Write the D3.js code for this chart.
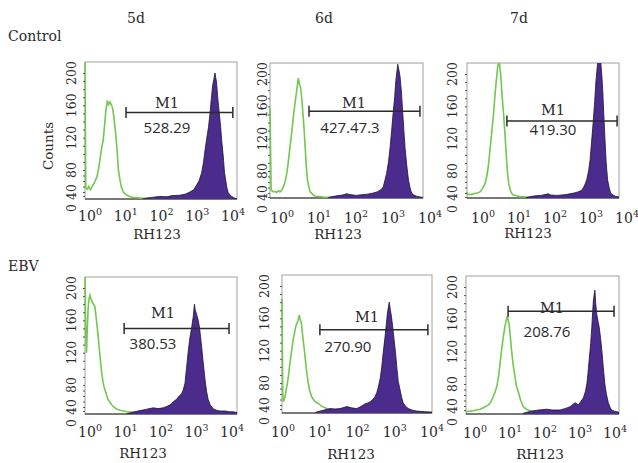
<!DOCTYPE html>
<html lang="en">
<head>
<meta charset="UTF-8" />
<title>RH123 histograms, Control vs EBV</title>
<script src="https://d3js.org/d3.v7.min.js"></script>
<style>
  body { margin: 0; background: #fff; }
  svg { display: block; }
  .serif { font-family: 'DejaVu Serif', serif; fill: #2a2a2a; }
  .sans { font-family: 'Open Sans', sans-serif; fill: #2a2a2a; }
</style>
</head>
<body>
<svg id="chart" width="638" height="463"></svg>
<script>
// ---- data: [log10 RH123 intensity, counts] ----
const days = ['5d', '6d', '7d'];
const groups = ['Control', 'EBV'];
const xTicks = [1, 10, 100, 1000, 10000];
const yTicks = [0, 40, 80, 120, 160, 200];
const mfiLabels = ['528.29', '427.47.3', '419.30', '380.53', '270.90', '208.76'];
const gateFrom = [1.08, 1.02, 1.05, 1.03, 1.01, 1.1];
const gateTo = [3.89, 3.92, 3.95, 3.79, 3.89, 3.87];
const gateLevel = [151, 154, 142, 150, 146, 170];

const ctrl5dGreen = [[0, 215], [0.02, 48], [0.06, 45], [0.1, 50], [0.14, 44], [0.18, 49], [0.24, 56], [0.31, 67], [0.36, 82], [0.39, 92], [0.44, 108], [0.48, 117], [0.52, 138], [0.55, 154], [0.59, 166], [0.62, 161], [0.66, 164], [0.7, 160], [0.73, 156], [0.76, 145], [0.79, 133], [0.82, 118], [0.85, 101], [0.88, 80], [0.92, 62], [0.96, 48], [1.01, 40], [1.07, 34], [1.14, 30], [1.25, 27], [1.45, 25], [1.7, 23], [2.5, 23], [4, 23]];
const ctrl5dPurple = [[1.5, 22], [1.63, 25], [1.8, 27], [1.97, 29], [2.15, 28], [2.3, 31], [2.5, 32], [2.65, 35], [2.76, 40], [2.86, 44], [2.94, 53], [3.0, 60], [3.07, 75], [3.12, 90], [3.16, 105], [3.2, 118], [3.25, 133], [3.29, 150], [3.32, 166], [3.36, 185], [3.39, 192], [3.42, 200], [3.44, 194], [3.46, 189], [3.5, 166], [3.53, 152], [3.57, 133], [3.6, 115], [3.64, 96], [3.67, 76], [3.71, 58], [3.74, 46], [3.77, 38], [3.82, 32], [3.86, 29], [3.93, 25], [4, 23]];

const ctrl6dGreen = [[0, 158], [0.03, 45], [0.09, 42], [0.13, 43], [0.17, 41], [0.22, 44], [0.26, 42], [0.31, 46], [0.35, 51], [0.4, 62], [0.44, 76], [0.48, 92], [0.52, 109], [0.57, 128], [0.61, 147], [0.66, 166], [0.7, 180], [0.74, 195], [0.77, 188], [0.8, 183], [0.83, 170], [0.85, 158], [0.89, 133], [0.92, 109], [0.95, 85], [0.98, 64], [1.02, 50], [1.05, 42], [1.12, 36], [1.18, 32], [1.3, 31], [1.39, 30], [1.6, 29], [2, 28], [4, 28]];
const ctrl6dPurple = [[1.5, 27], [1.57, 30], [1.75, 33], [1.9, 35], [2.0, 38], [2.1, 36], [2.25, 34], [2.44, 36], [2.55, 37], [2.7, 40], [2.8, 42], [2.9, 46], [2.96, 51], [3.0, 62], [3.05, 76], [3.1, 92], [3.14, 109], [3.18, 130], [3.22, 152], [3.26, 172], [3.29, 192], [3.32, 204], [3.34, 212], [3.37, 205], [3.4, 197], [3.44, 175], [3.47, 152], [3.5, 130], [3.53, 109], [3.58, 85], [3.62, 64], [3.66, 50], [3.7, 40], [3.76, 35], [3.83, 32], [3.92, 30], [4, 29]];

const ctrl7dGreen = [[0, 42], [0.02, 36], [0.08, 37], [0.12, 36], [0.17, 38], [0.22, 39], [0.28, 40], [0.34, 42], [0.4, 47], [0.47, 56], [0.52, 70], [0.56, 85], [0.6, 104], [0.65, 127], [0.7, 152], [0.74, 176], [0.78, 196], [0.81, 210], [0.85, 215], [0.87, 206], [0.89, 197], [0.92, 175], [0.96, 152], [1.0, 125], [1.03, 103], [1.06, 80], [1.1, 56], [1.15, 43], [1.2, 36], [1.3, 33], [1.39, 31], [1.55, 30], [1.8, 28], [4, 28]];
const ctrl7dPurple = [[1.55, 28], [1.66, 31], [1.8, 33], [1.95, 34], [2.05, 36], [2.14, 38], [2.2, 35], [2.35, 34], [2.5, 35], [2.6, 36], [2.71, 38], [2.82, 40], [2.92, 42], [3.02, 45], [3.09, 53], [3.15, 64], [3.2, 80], [3.24, 94], [3.28, 117], [3.32, 140], [3.36, 166], [3.39, 189], [3.42, 205], [3.44, 215], [3.48, 216], [3.52, 215], [3.55, 197], [3.57, 181], [3.6, 150], [3.63, 120], [3.66, 92], [3.7, 64], [3.74, 50], [3.78, 40], [3.84, 35], [3.9, 32], [4, 30]];

const ebv5dGreen = [[0, 215], [0.02, 140], [0.04, 120], [0.06, 150], [0.08, 172], [0.1, 185], [0.13, 191], [0.16, 186], [0.18, 184], [0.22, 180], [0.26, 177], [0.29, 165], [0.32, 152], [0.35, 138], [0.38, 123], [0.41, 108], [0.44, 95], [0.47, 85], [0.5, 77], [0.55, 66], [0.59, 56], [0.64, 50], [0.7, 44], [0.76, 40], [0.83, 35], [0.92, 32], [1.01, 30], [1.1, 28], [1.27, 27], [1.5, 24], [2, 23], [4, 23]];
const ebv5dPurple = [[1.1, 23], [1.3, 28], [1.45, 31], [1.6, 34], [1.8, 38], [1.92, 36], [2.06, 38], [2.15, 41], [2.24, 44], [2.33, 50], [2.41, 54], [2.48, 60], [2.54, 64], [2.58, 70], [2.63, 82], [2.67, 100], [2.72, 123], [2.76, 138], [2.81, 152], [2.85, 165], [2.88, 180], [2.9, 173], [2.94, 167], [2.98, 160], [3.01, 152], [3.04, 140], [3.07, 127], [3.11, 108], [3.16, 86], [3.2, 68], [3.24, 54], [3.3, 43], [3.38, 35], [3.46, 32], [3.55, 30], [3.7, 30], [3.8, 28], [3.9, 28], [4, 26]];

const ebv6dGreen = [[0, 184], [0.02, 60], [0.04, 46], [0.08, 55], [0.11, 67], [0.14, 78], [0.17, 88], [0.21, 104], [0.26, 121], [0.3, 134], [0.35, 146], [0.38, 152], [0.42, 156], [0.44, 160], [0.46, 164], [0.49, 158], [0.52, 153], [0.56, 135], [0.61, 115], [0.65, 97], [0.7, 80], [0.74, 66], [0.79, 55], [0.84, 50], [0.88, 46], [0.93, 44], [0.99, 42], [1.05, 37], [1.15, 33], [1.25, 29], [1.37, 26], [1.6, 23], [2, 22], [4, 22]];
const ebv6dPurple = [[0.9, 22], [1.1, 27], [1.28, 31], [1.42, 30], [1.55, 31], [1.65, 34], [1.73, 36], [1.85, 33], [1.99, 31], [2.1, 36], [2.21, 42], [2.3, 44], [2.35, 46], [2.42, 50], [2.48, 55], [2.53, 63], [2.57, 73], [2.62, 86], [2.66, 100], [2.7, 118], [2.75, 138], [2.78, 152], [2.81, 166], [2.84, 175], [2.86, 180], [2.89, 170], [2.92, 162], [2.96, 146], [2.99, 133], [3.03, 116], [3.06, 100], [3.1, 82], [3.15, 67], [3.19, 54], [3.23, 44], [3.3, 36], [3.37, 31], [3.48, 27], [3.59, 25], [3.8, 23], [4, 22]];

const ebv7dGreen = [[0, 26], [0.1, 27], [0.19, 28], [0.28, 30], [0.37, 32], [0.44, 35], [0.5, 38], [0.57, 41], [0.63, 45], [0.7, 55], [0.76, 65], [0.81, 77], [0.85, 89], [0.89, 105], [0.93, 122], [0.96, 133], [0.99, 143], [1.02, 152], [1.05, 158], [1.08, 164], [1.1, 160], [1.13, 153], [1.16, 138], [1.19, 122], [1.23, 105], [1.28, 89], [1.32, 76], [1.37, 65], [1.43, 50], [1.5, 38], [1.58, 32], [1.67, 28], [1.85, 24], [2.2, 22], [4, 22]];
const ebv7dPurple = [[1.5, 22], [1.7, 27], [1.9, 30], [2.11, 32], [2.25, 30], [2.46, 30], [2.6, 34], [2.72, 38], [2.8, 43], [2.85, 46], [2.9, 44], [2.94, 42], [3.0, 48], [3.07, 55], [3.12, 66], [3.16, 80], [3.19, 94], [3.22, 110], [3.26, 130], [3.29, 151], [3.31, 168], [3.33, 183], [3.35, 190], [3.37, 196], [3.39, 180], [3.42, 166], [3.45, 158], [3.48, 151], [3.52, 136], [3.55, 122], [3.59, 100], [3.63, 80], [3.67, 62], [3.72, 46], [3.77, 36], [3.81, 30], [3.88, 27], [3.94, 26], [4, 24]];

const greenSeries = [ctrl5dGreen, ctrl6dGreen, ctrl7dGreen, ebv5dGreen, ebv6dGreen, ebv7dGreen];
const purpleSeries = [ctrl5dPurple, ctrl6dPurple, ctrl7dPurple, ebv5dPurple, ebv6dPurple, ebv7dPurple];

// ---- layout (pixels) ----
const layout = [
  { x0: 85, x1: 237, y0: 62, y1: 199, yLab: 71, tickL: 90, tickR: 233, tickY: 221, rhX: 157, rhY: 239, m1: [167, 108], val: [167, 133] },
  { x0: 270, x1: 423, y0: 63, y1: 198, yLab: 262, tickL: 282, tickR: 430, tickY: 223, rhX: 338, rhY: 239, m1: [354, 108], val: [350, 133] },
  { x0: 467, x1: 619, y0: 63, y1: 198, yLab: 452, tickL: 483, tickR: 627, tickY: 223, rhX: 528, rhY: 238, m1: [553, 115], val: [553, 135] },
  { x0: 85, x1: 237, y0: 277, y1: 414, yLab: 71, tickL: 90, tickR: 232, tickY: 437, rhX: 143, rhY: 458, m1: [163, 318], val: [153, 349] },
  { x0: 282, x1: 432, y0: 275, y1: 413, yLab: 264, tickL: 283, tickR: 432, tickY: 437, rhX: 351, rhY: 459, m1: [367, 322], val: [348, 352] },
  { x0: 466, x1: 619, y0: 276, y1: 414, yLab: 452, tickL: 475, tickR: 615, tickY: 438, rhX: 540, rhY: 459, m1: [552, 313], val: [547, 337] }
];
const dayX = [136, 324, 519];
const groupY = [41, 271];

const green = '#72c84e';
const purple = '#4b2b8c';

const svg = d3.select('#chart');

svg.selectAll('.day')
  .data(days)
  .join('text')
  .attr('class', 'serif')
  .attr('x', (d, i) => dayX[i])
  .attr('y', 23)
  .attr('text-anchor', 'middle')
  .style('font-size', '14px')
  .text((d) => d);

svg.selectAll('.group')
  .data(groups)
  .join('text')
  .attr('class', 'serif')
  .attr('x', 8)
  .attr('y', (d, i) => groupY[i])
  .style('font-size', '14px')
  .text((d) => d);

layout.forEach((p, i) => {
  const x = d3.scaleLog().domain([1, 1e4]).range([p.x0, p.x1]);
  // the pasted axis labels sit unevenly near the bottom, hence the extra stops
  const y = d3.scaleLinear()
    .domain([0, 40, 80, 200])
    .range([p.y0 + 146, p.y0 + 130, p.y0 + 108, p.y0 + 11]);
  const lx = (d) => x(Math.pow(10, d[0]));

  const g = svg.append('g');

  // frame first, so the curves sit on top of it
  g.append('rect')
    .attr('x', p.x0)
    .attr('y', p.y0)
    .attr('width', p.x1 - p.x0)
    .attr('height', p.y1 - p.y0)
    .attr('fill', 'none')
    .attr('stroke', '#a0a0a0')
    .attr('stroke-width', 1);
  g.append('line')
    .attr('x1', p.x0).attr('x2', p.x1)
    .attr('y1', p.y1).attr('y2', p.y1)
    .attr('stroke', '#222')
    .attr('stroke-width', 1.2);

  g.append('clipPath')
    .attr('id', 'clip' + i)
    .append('rect')
    .attr('x', p.x0 - 1)
    .attr('y', p.y0)
    .attr('width', p.x1 - p.x0 + 1)
    .attr('height', p.y1 - p.y0);

  const plot = g.append('g').attr('clip-path', `url(#clip${i})`);

  plot.append('path')
    .datum(greenSeries[i])
    .attr('fill', 'none')
    .attr('stroke', green)
    .attr('stroke-width', 1.6)
    .attr('d', d3.line().x(lx).y((d) => y(d[1])));

  plot.append('path')
    .datum(purpleSeries[i])
    .attr('fill', purple)
    .attr('stroke', '#1d1236')
    .attr('stroke-width', 0.8)
    .attr('d', d3.area().x(lx).y0(y(0)).y1((d) => y(d[1])));

  // small ticks on the count axis
  g.append('g')
    .attr('transform', `translate(${p.x0},0)`)
    .call(d3.axisLeft(y).tickValues(d3.range(30, 201, 10)).tickSize(2).tickFormat(''))
    .call((a) => a.select('.domain').remove())
    .selectAll('line')
    .attr('stroke', '#555');

  // rotated count labels
  g.selectAll('.ylab')
    .data(yTicks)
    .join('text')
    .attr('class', 'serif')
    .attr('transform', (d) => `translate(${p.yLab},${y(d)}) rotate(-90)`)
    .attr('text-anchor', 'middle')
    .attr('dominant-baseline', 'central')
    .style('font-size', '12.5px')
    .text((d) => d);

  // decade labels
  const tx = x.copy().range([p.tickL, p.tickR]);
  const xl = g.selectAll('.xlab')
    .data(xTicks)
    .join('text')
    .attr('class', 'serif')
    .attr('x', (d) => tx(d))
    .attr('y', p.tickY)
    .attr('text-anchor', 'middle')
    .style('font-size', '14px');
  xl.append('tspan').text('10');
  xl.append('tspan')
    .attr('dy', -6)
    .style('font-size', '9.5px')
    .text((d) => Math.round(Math.log10(d)));

  g.append('text')
    .attr('class', 'serif')
    .attr('x', p.rhX)
    .attr('y', p.rhY)
    .attr('text-anchor', 'middle')
    .style('font-size', '13.5px')
    .text('RH123');

  // M1 gate
  const gx0 = x(Math.pow(10, gateFrom[i]));
  const gx1 = x(Math.pow(10, gateTo[i]));
  const gy = y(gateLevel[i]);
  const gate = g.append('g').attr('stroke', '#2b2b2b').attr('stroke-width', 1.5);
  gate.append('line').attr('x1', gx0).attr('x2', gx1).attr('y1', gy).attr('y2', gy);
  [gx0, gx1].forEach((gxx) => {
    gate.append('line').attr('x1', gxx).attr('x2', gxx).attr('y1', gy - 5.5).attr('y2', gy + 5.5);
  });

  g.append('text')
    .attr('class', 'serif')
    .attr('x', p.m1[0])
    .attr('y', p.m1[1])
    .attr('text-anchor', 'middle')
    .style('font-size', '14.5px')
    .text('M1');

  g.append('text')
    .attr('class', 'sans')
    .attr('x', p.val[0])
    .attr('y', p.val[1])
    .attr('text-anchor', 'middle')
    .style('font-size', '15px')
    .text(mfiLabels[i]);
});

svg.append('text')
  .attr('class', 'serif')
  .attr('transform', 'translate(48,146) rotate(-90)')
  .attr('text-anchor', 'middle')
  .attr('dominant-baseline', 'central')
  .style('font-size', '13.5px')
  .text('Counts');
</script>
</body>
</html>
